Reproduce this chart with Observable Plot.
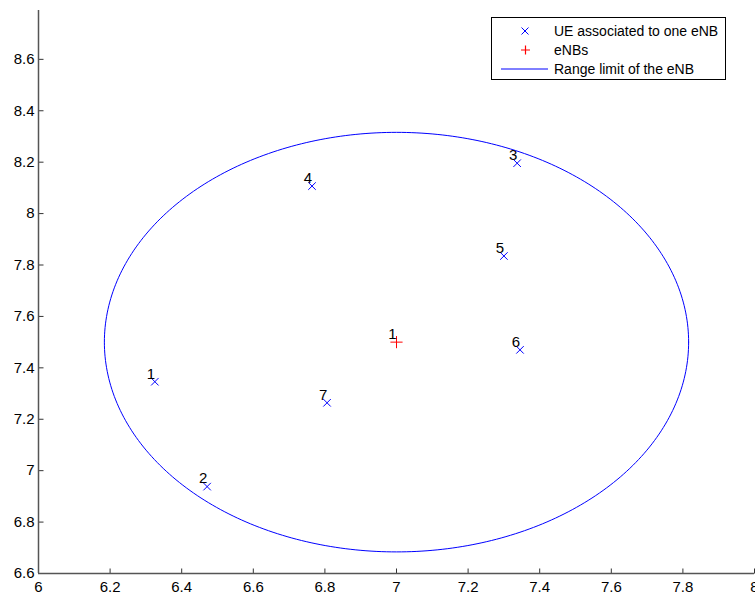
<!DOCTYPE html>
<html>
<head>
<meta charset="utf-8">
<script src="https://cdn.jsdelivr.net/npm/d3@7"></script>
<script src="https://cdn.jsdelivr.net/npm/@observablehq/plot@0.6"></script>
<style>
  html, body { margin: 0; padding: 0; background: #fff; }
  #wrap { position: relative; width: 755px; height: 594px; overflow: hidden; font-family: "Liberation Sans", Arial, sans-serif; }
  #legend { position: absolute; left: 491px; top: 17px; width: 233px; height: 61px; border: 1px solid #000; background: #fff; font-size: 14px; color: #000; }
  .row { position: absolute; left: 0; height: 18px; display: flex; align-items: center; }
  .row svg { display: block; }
  .row span { margin-left: 4px; }
</style>
</head>
<body>
<div id="wrap"></div>
<script>
// UE positions
const ueIds = [1, 2, 3, 4, 5, 6, 7];
const ueX = [6.325, 6.471, 7.337, 6.764, 7.300, 7.345, 6.806];
const ueY = [7.346, 6.938, 8.196, 8.107, 7.835, 7.470, 7.264];
// eNB positions
const enbIds = [1];
const enbX = [7.0];
const enbY = [7.5];
// range limit
const rangeRadius = 0.816;
// ticks
const xTicks = [6, 6.2, 6.4, 6.6, 6.8, 7, 7.2, 7.4, 7.6, 7.8, 8];
const yTicks = [6.6, 6.8, 7, 7.2, 7.4, 7.6, 7.8, 8, 8.2, 8.4, 8.6];
const xMin = 6, yMin = 6.6;

const ue = ueIds.map((id, i) => ({id, x: ueX[i], y: ueY[i]}));
const enb = enbIds.map((id, i) => ({id, x: enbX[i], y: enbY[i]}));
const circle = [];
for (let k = 0; k <= 360; k++) {
  const t = k * Math.PI / 180;
  circle.push({x: enbX[0] + rangeRadius * Math.cos(t), y: enbY[0] + rangeRadius * Math.sin(t)});
}

// inward tick symbols
const tickUp = {draw(ctx) { ctx.moveTo(0, 0); ctx.lineTo(0, -5); }};
const tickRight = {draw(ctx) { ctx.moveTo(0, 0); ctx.lineTo(5, 0); }};

const chart = Plot.plot({
  width: 755,
  height: 594,
  marginLeft: 38,
  marginRight: 1,
  marginTop: 10,
  marginBottom: 21,
  style: {fontFamily: "Liberation Sans, Arial, sans-serif", fontSize: "15px", background: "#fff", color: "#000", overflow: "visible"},
  x: {domain: [6, 8], ticks: xTicks, label: null},
  y: {domain: [6.6, 8.79], ticks: yTicks, label: null},
  marks: [
    Plot.axisX({ticks: xTicks, tickFormat: d => String(d), tickSize: 0, tickPadding: 8, fill: "#000", fontSize: 15}),
    Plot.axisY({ticks: yTicks, tickFormat: d => String(d), tickSize: 0, tickPadding: 4, fill: "#000", fontSize: 15}),
    Plot.dot(xTicks, {x: d => d, y: () => yMin, symbol: tickUp, r: 3, stroke: "#333", strokeWidth: 1, fill: "none"}),
    Plot.dot(yTicks, {x: () => xMin, y: d => d, symbol: tickRight, r: 3, stroke: "#333", strokeWidth: 1, fill: "none"}),
    Plot.ruleX([xMin], {stroke: "#555", strokeWidth: 1.5}),
    Plot.ruleY([yMin], {stroke: "#555", strokeWidth: 1.5}),
    Plot.line(circle, {x: "x", y: "y", stroke: "#0000ff", strokeWidth: 1}),
    Plot.dot(ue, {x: "x", y: "y", symbol: "times", r: 3.5, stroke: "#0000ff", strokeWidth: 1}),
    Plot.dot(enb, {x: "x", y: "y", symbol: "plus", r: 4, stroke: "#ff0000", strokeWidth: 1}),
    Plot.text(ue, {x: "x", y: "y", text: d => String(d.id), dx: -4, dy: -8, fill: "#000", fontSize: 15}),
    Plot.text(enb, {x: "x", y: "y", text: d => String(d.id), dx: -4, dy: -8, fill: "#000", fontSize: 15})
  ]
});
const wrap = document.getElementById("wrap");
wrap.appendChild(chart);

const legend = document.createElement("div");
legend.id = "legend";
legend.innerHTML = `
  <div class="row" style="top:4px"><svg width="58" height="18"><path d="M29.5,5.5L36.5,12.5M36.5,5.5L29.5,12.5" stroke="#0000ff" stroke-width="1" fill="none"/></svg><span>UE associated to one eNB</span></div>
  <div class="row" style="top:23px"><svg width="58" height="18"><path d="M33.5,4.5V13.5M29,9H38" stroke="#ff0000" stroke-width="1.2" fill="none"/></svg><span>eNBs</span></div>
  <div class="row" style="top:42px"><svg width="58" height="18"><path d="M9,9H56" stroke="#0000ff" stroke-width="1" fill="none"/></svg><span>Range limit of the eNB</span></div>`;
wrap.appendChild(legend);
</script>
</body>
</html>
